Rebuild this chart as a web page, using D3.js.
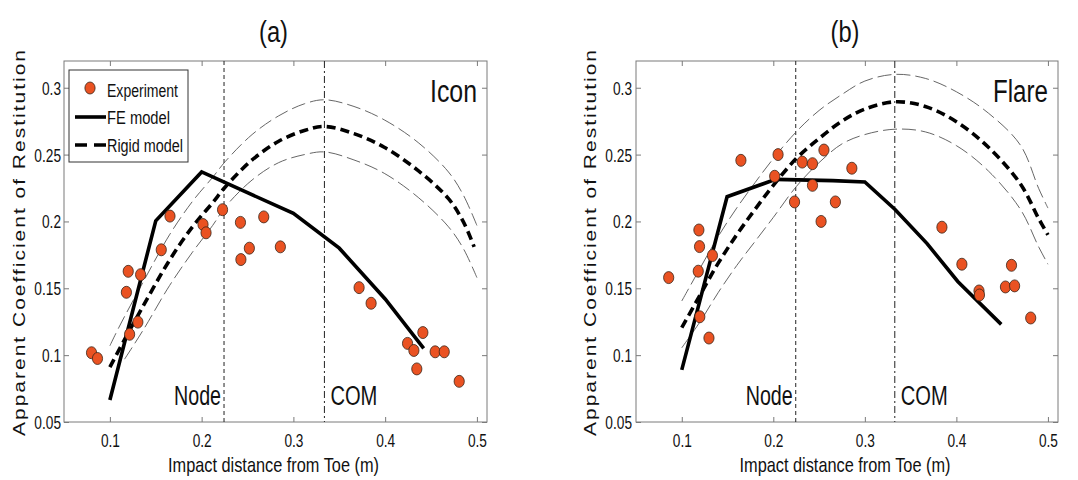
<!DOCTYPE html>
<html><head><meta charset="utf-8">
<script src="https://cdn.jsdelivr.net/npm/d3@7"></script>
<style>
body{margin:0;background:#fff}
svg{display:block;background:#fff}
text{font-family:"Liberation Sans",Arial,sans-serif;fill:#111}
</style>
</head><body>
<svg id="chart" width="1078" height="480"></svg>
<script>
// ---------- data ----------
const xTicks = [0.1, 0.2, 0.3, 0.4, 0.5];
const yTicks = [0.05, 0.1, 0.15, 0.2, 0.25, 0.3];
const xDomain = [0.05, 0.511];
const yDomain = [0.05, 0.32];
const panelTitles = ["(a)", "(b)"];
const clubNames = ["Icon", "Flare"];
const legendLabels = ["Experiment", "FE model", "Rigid model"];
const xLabel = "Impact distance from Toe (m)";
const yLabel = "Apparent Coefficient of Restitution";
const markerLabels = ["Node", "COM"];
const nodeX = [0.2244, 0.2245];
const comX = [0.3338, 0.3327];

// (a) Icon
const iconExpX = [0.08, 0.0865, 0.118, 0.12, 0.1215, 0.1305, 0.1335, 0.156, 0.1655, 0.2015, 0.2048, 0.2228, 0.2423, 0.2428, 0.252, 0.2677, 0.2858, 0.3716, 0.3847, 0.4244, 0.4313, 0.4345, 0.4411, 0.4545, 0.4644, 0.4807];
const iconExpY = [0.1018, 0.0975, 0.147, 0.1627, 0.1156, 0.1247, 0.1602, 0.1788, 0.204, 0.1977, 0.1915, 0.2088, 0.1993, 0.1715, 0.18, 0.2034, 0.181, 0.1505, 0.1388, 0.1088, 0.1035, 0.0897, 0.1169, 0.1025, 0.1025, 0.0804];
const iconFEX = [0.1, 0.15, 0.2, 0.3, 0.35, 0.4, 0.442];
const iconFEY = [0.0665, 0.2005, 0.237, 0.206, 0.18, 0.142, 0.105];
const iconRigidX = [0.1, 0.11, 0.1365, 0.165, 0.19, 0.212, 0.226, 0.255, 0.284, 0.312, 0.334, 0.366, 0.399, 0.436, 0.469, 0.485, 0.497];
const iconRigidY = [0.091, 0.104, 0.137, 0.171, 0.196, 0.214, 0.226, 0.246, 0.26, 0.268, 0.271, 0.2657, 0.2555, 0.238, 0.217, 0.2, 0.181];
const iconUpperX = [0.1, 0.11, 0.1365, 0.165, 0.19, 0.212, 0.226, 0.255, 0.284, 0.312, 0.334, 0.366, 0.399, 0.436, 0.469, 0.485, 0.5];
const iconUpperY = [0.107, 0.121, 0.155, 0.19, 0.215, 0.233, 0.245, 0.265, 0.279, 0.288, 0.291, 0.286, 0.276, 0.259, 0.237, 0.22, 0.197];
const iconLowerX = [0.116, 0.1365, 0.165, 0.19, 0.212, 0.226, 0.255, 0.284, 0.312, 0.334, 0.366, 0.399, 0.436, 0.469, 0.485, 0.5];
const iconLowerY = [0.097, 0.119, 0.152, 0.177, 0.197, 0.211, 0.231, 0.244, 0.25, 0.252, 0.246, 0.236, 0.218, 0.196, 0.18, 0.158];

// (b) Flare
const flareExpX = [0.0857, 0.1187, 0.1194, 0.118, 0.1335, 0.1197, 0.1297, 0.1646, 0.2052, 0.2015, 0.2553, 0.2316, 0.2428, 0.2428, 0.2858, 0.2232, 0.2678, 0.2522, 0.3842, 0.406, 0.4247, 0.4252, 0.4602, 0.4536, 0.4636, 0.4812];
const flareExpY = [0.158, 0.1936, 0.1812, 0.1628, 0.1745, 0.1287, 0.1128, 0.2457, 0.25, 0.2338, 0.2534, 0.2444, 0.2432, 0.227, 0.2398, 0.2146, 0.2146, 0.2, 0.1957, 0.168, 0.148, 0.145, 0.1672, 0.151, 0.1518, 0.1278];
const flareFEX = [0.1, 0.1495, 0.2026, 0.265, 0.3, 0.333, 0.368, 0.4015, 0.449];
const flareFEY = [0.089, 0.2185, 0.2315, 0.2305, 0.2295, 0.209, 0.1834, 0.1551, 0.123];
const flareRigidX = [0.1, 0.12, 0.14, 0.16, 0.18, 0.2, 0.225, 0.25, 0.275, 0.3, 0.333, 0.366, 0.4, 0.435, 0.47, 0.49, 0.5];
const flareRigidY = [0.1205, 0.145, 0.169, 0.19, 0.209, 0.227, 0.247, 0.262, 0.275, 0.284, 0.2895, 0.286, 0.2746, 0.2555, 0.228, 0.202, 0.19];
const flareUpperX = [0.1, 0.12, 0.14, 0.16, 0.18, 0.2, 0.225, 0.25, 0.275, 0.3, 0.333, 0.366, 0.4, 0.435, 0.47, 0.49, 0.5];
const flareUpperY = [0.1405, 0.165, 0.189, 0.21, 0.229, 0.247, 0.267, 0.283, 0.295, 0.305, 0.31, 0.307, 0.297, 0.281, 0.257, 0.2245, 0.21];
const flareLowerX = [0.1, 0.12, 0.14, 0.16, 0.18, 0.2, 0.225, 0.25, 0.275, 0.3, 0.333, 0.366, 0.4, 0.435, 0.47, 0.49, 0.5];
const flareLowerY = [0.1055, 0.125, 0.147, 0.167, 0.185, 0.203, 0.226, 0.244, 0.258, 0.265, 0.269, 0.267, 0.2567, 0.2377, 0.209, 0.1808, 0.168];

// ---------- drawing ----------
const SQ = 0.79;
const svg = d3.select("#chart");
function squeeze(sel, f) {
  sel.each(function () {
    const L = this.getComputedTextLength();
    this.setAttribute("textLength", L * f);
    this.setAttribute("lengthAdjust", "spacingAndGlyphs");
  });
}
function fixLen(sel, w) {
  sel.attr("textLength", w).attr("lengthAdjust", "spacingAndGlyphs");
}

const panels = [
  { i: 0, x0: 64, x1: 487, exp: [iconExpX, iconExpY], fe: [iconFEX, iconFEY], rigid: [iconRigidX, iconRigidY], up: [iconUpperX, iconUpperY], lo: [iconLowerX, iconLowerY], legend: true, nameW: 47, ylab: 25, ytlGap: 3 },
  { i: 1, x0: 636, x1: 1058, exp: [flareExpX, flareExpY], fe: [flareFEX, flareFEY], rigid: [flareRigidX, flareRigidY], up: [flareUpperX, flareUpperY], lo: [flareLowerX, flareLowerY], legend: false, nameW: 55, ylab: 596, ytlGap: 4 }
];
const yTop = 61, yBot = 422;

panels.forEach(p => {
  const x = d3.scaleLinear().domain(xDomain).range([p.x0, p.x1]);
  const y = d3.scaleLinear().domain(yDomain).range([yBot, yTop]);
  const g = svg.append("g");
  const cx = (p.x0 + p.x1) / 2;

  // box
  g.append("rect").attr("x", p.x0).attr("y", yTop).attr("width", p.x1 - p.x0).attr("height", yBot - yTop)
    .attr("fill", "#fff").attr("stroke", "#7a7a7a").attr("stroke-width", 1);

  // axes
  const fmt = d => String(d);
  const axB = g.append("g").attr("transform", `translate(0,${yBot})`)
    .call(d3.axisBottom(x).tickValues(xTicks).tickSizeInner(-5).tickSizeOuter(0).tickFormat(fmt));
  axB.selectAll("text").attr("y", 25).attr("dy", 0).style("font-size", "18px").attr("fill", "#111");
  const axL = g.append("g").attr("transform", `translate(${p.x0},0)`)
    .call(d3.axisLeft(y).tickValues(yTicks).tickSizeInner(-5).tickSizeOuter(0).tickFormat(fmt));
  axL.selectAll("text").attr("x", -p.ytlGap).attr("dy", "0.36em").style("font-size", "18px").attr("fill", "#111");
  const axT = g.append("g").attr("transform", `translate(0,${yTop})`)
    .call(d3.axisTop(x).tickValues(xTicks).tickSizeInner(-5).tickSizeOuter(0).tickFormat(""));
  const axR = g.append("g").attr("transform", `translate(${p.x1},0)`)
    .call(d3.axisRight(y).tickValues(yTicks).tickSizeInner(-5).tickSizeOuter(0).tickFormat(""));
  [axB, axL, axT, axR].forEach(a => {
    a.select(".domain").remove();
    a.selectAll("line").attr("stroke", "#7a7a7a");
  });
  squeeze(axB.selectAll("text"), 0.76);
  squeeze(axL.selectAll("text"), 0.76);

  // vertical marker lines
  g.append("line").attr("x1", x(nodeX[p.i])).attr("x2", x(nodeX[p.i])).attr("y1", yTop).attr("y2", yBot)
    .attr("stroke", "#222").attr("stroke-width", 1).attr("stroke-dasharray", "4,3");
  g.append("line").attr("x1", x(comX[p.i])).attr("x2", x(comX[p.i])).attr("y1", yTop).attr("y2", yBot)
    .attr("stroke", "#222").attr("stroke-width", 1).attr("stroke-dasharray", "7,3,2,3");

  // curves
  const smooth = d3.line().x(d => x(d[0])).y(d => y(d[1])).curve(d3.curveCatmullRom.alpha(0.5));
  const straight = d3.line().x(d => x(d[0])).y(d => y(d[1]));
  [p.up, p.lo].forEach(b => {
    g.append("path").attr("d", smooth(d3.zip(b[0], b[1]))).attr("fill", "none")
      .attr("stroke", "#555").attr("stroke-width", 0.9).attr("stroke-dasharray", "14,5");
  });
  g.append("path").attr("d", smooth(d3.zip(p.rigid[0], p.rigid[1]))).attr("fill", "none")
    .attr("stroke", "#000").attr("stroke-width", 3.6).attr("stroke-dasharray", "9,5");
  g.append("path").attr("d", straight(d3.zip(p.fe[0], p.fe[1]))).attr("fill", "none")
    .attr("stroke", "#000").attr("stroke-width", 3.6).attr("stroke-linejoin", "miter");

  // experiment markers
  g.selectAll("ellipse.exp").data(d3.zip(p.exp[0], p.exp[1])).join("ellipse")
    .attr("class", "exp").attr("cx", d => x(d[0])).attr("cy", d => y(d[1]))
    .attr("rx", 5.1).attr("ry", 6).attr("fill", "#ea5222").attr("stroke", "#3a2418").attr("stroke-width", 0.8);

  // texts
  const t = g.append("text").attr("x", cx - 2).attr("y", 42).attr("text-anchor", "middle")
    .style("font-size", "30px").text(panelTitles[p.i]);
  squeeze(t, SQ);
  const nm = g.append("text").attr("x", p.x1 - 10).attr("y", 102).attr("text-anchor", "end")
    .style("font-size", "31px").text(clubNames[p.i]);
  fixLen(nm, p.nameW);
  const nd = g.append("text").attr("x", x(nodeX[p.i]) - 3).attr("y", 405).attr("text-anchor", "end")
    .style("font-size", "27px").text(markerLabels[0]);
  fixLen(nd, 47);
  const cm = g.append("text").attr("x", x(comX[p.i]) + 6).attr("y", 405).attr("text-anchor", "start")
    .style("font-size", "27px").text(markerLabels[1]);
  fixLen(cm, 47);
  const xl = g.append("text").attr("x", cx - 2).attr("y", 472).attr("text-anchor", "middle")
    .style("font-size", "21px").text(xLabel);
  fixLen(xl, 211);
  g.append("text").attr("transform", `translate(${p.ylab},${243}) scale(0.78,1) rotate(-90)`)
    .attr("text-anchor", "middle").style("font-size", "21px")
    .attr("textLength", 386).attr("lengthAdjust", "spacing").text(yLabel);

  // legend
  if (p.legend) {
    const lg = g.append("g");
    lg.append("rect").attr("x", 69).attr("y", 70).attr("width", 119).attr("height", 92)
      .attr("fill", "#fff").attr("stroke", "#333").attr("stroke-width", 1);
    lg.append("ellipse").attr("cx", 90).attr("cy", 88).attr("rx", 5.1).attr("ry", 6)
      .attr("fill", "#ea5222").attr("stroke", "#3a2418").attr("stroke-width", 0.8);
    lg.append("line").attr("x1", 75).attr("x2", 106).attr("y1", 117).attr("y2", 117)
      .attr("stroke", "#000").attr("stroke-width", 3.6);
    lg.append("line").attr("x1", 75).attr("x2", 106).attr("y1", 145).attr("y2", 145)
      .attr("stroke", "#000").attr("stroke-width", 3.6).attr("stroke-dasharray", "12,7");
    const ly = [97, 124, 151.5], lw = [71, 63, 76];
    legendLabels.forEach((s, k) => {
      const tt = lg.append("text").attr("x", 107).attr("y", ly[k]).style("font-size", "18px").text(s);
      fixLen(tt, lw[k]);
    });
  }
});
</script>
</body></html>
